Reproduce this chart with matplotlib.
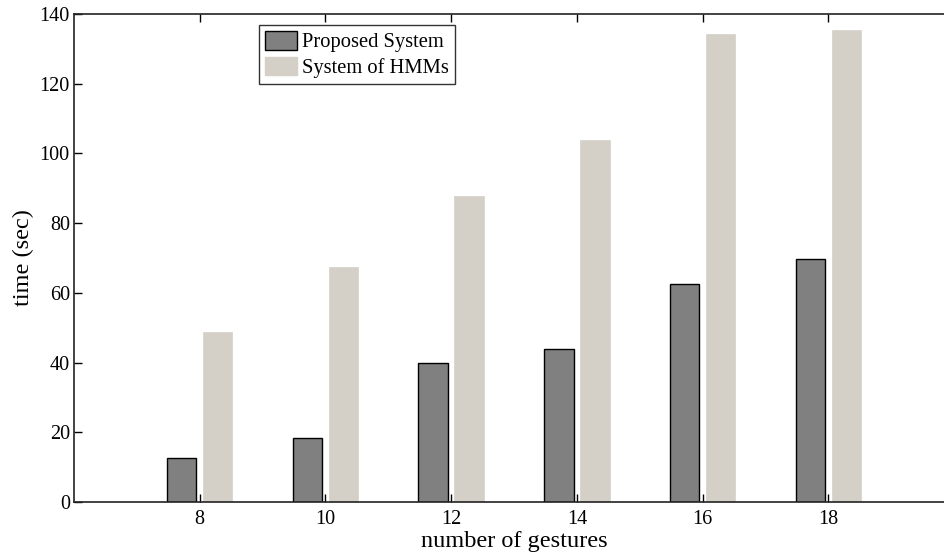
import numpy as np
import matplotlib.pyplot as plt
from matplotlib.patches import Patch

gestures = [8, 10, 12, 14, 16, 18]
proposed = [12.7, 18.3, 39.8, 43.8, 62.4, 69.6]
hmms = [48.8, 67.5, 87.7, 103.8, 134.2, 135.4]
labels = ["Proposed System", "System of HMMs"]

dark = "#808080"
light = "#d4d0c8"

plt.rcParams["font.family"] = ["Liberation Serif", "DejaVu Serif"]

fig = plt.figure(figsize=(9.45, 5.57), dpi=100)
# right part of the axes box runs past the figure edge, as in the original
ax = fig.add_axes([74 / 945, 1 - 502 / 557, 880 / 945, 488 / 557])

x = np.array(gestures, dtype=float)
w = 0.468
ax.bar(x - 0.287, proposed, width=w, color=dark, edgecolor="black", linewidth=1.0)
ax.bar(x + 0.287, hmms, width=w, color=light, edgecolor=light, linewidth=0.5)

ax.set_xlim(6, 20)
ax.set_ylim(0, 140)
ax.set_xticks(gestures)
ax.set_yticks(np.arange(0, 141, 20))
ax.tick_params(direction="in", length=6, width=1.0, labelsize=14.5,
               top=True, right=True)
ax.tick_params(axis="x", pad=6)
ax.tick_params(axis="y", pad=3)
for s in ax.spines.values():
    s.set_linewidth(1.2)
    s.set_color("#222222")

ax.set_xlabel("number of gestures", fontsize=17.5, labelpad=1)
ax.set_ylabel("time (sec)", fontsize=17.5, labelpad=4)

handles = [Patch(facecolor=dark, edgecolor="black", linewidth=1.0),
           Patch(facecolor=light, edgecolor=light)]
leg = ax.legend(handles, labels, loc="upper left", bbox_to_anchor=(185 / 880, 1 - 11 / 488),
                fontsize=14.8, frameon=True, fancybox=False, borderpad=0.3,
                handlelength=1.56, handleheight=1.0, handletextpad=0.25,
                labelspacing=0.2, borderaxespad=0)
leg.get_frame().set_edgecolor("black")
leg.get_frame().set_linewidth(1.0)

fig.savefig("out.png", dpi=100)
